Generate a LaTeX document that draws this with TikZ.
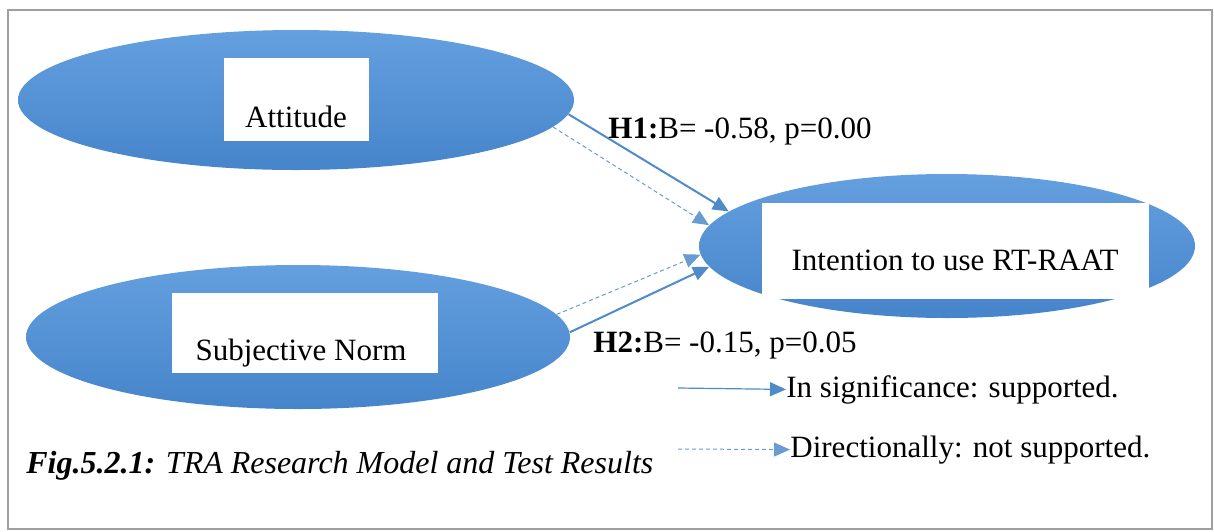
\documentclass[tikz,border=0pt]{standalone}
\usepackage{fontspec}
\setmainfont{Liberation Serif}
\usetikzlibrary{shapes.geometric,arrows.meta}
\definecolor{ovaltop}{RGB}{100,160,223}
\definecolor{ovalbot}{RGB}{70,132,203}
\definecolor{linkblue}{RGB}{79,138,201}

\begin{document}
\begin{tikzpicture}[x=0.5pt, y=-0.5pt,
    oval/.style={ellipse, draw=none, top color=ovaltop, bottom color=ovalbot, inner sep=0pt},
    whitebox/.style={fill=white, draw=none, inner sep=0pt},
    lbl/.style={inner sep=0pt, font=\fontsize{15.5}{18}\selectfont},
    sig/.style={draw=linkblue, line width=1pt, -{Triangle[length=8pt,width=7pt]}},
    dir/.style={draw=linkblue!85, line width=0.5pt, dash pattern=on 2pt off 1.5pt, -{Triangle[length=8pt,width=7pt]}}]
    \useasboundingbox (0,0) rectangle (1214,531);
    % frame
    \draw[gray!75, line width=1pt] (8,10) rectangle (1212,529);
    % constructs
    \node[oval, minimum width=278pt, minimum height=70pt] (att) at (296,100) {};
    \node[oval, minimum width=272pt, minimum height=72pt] (sn) at (298,337) {};
    \node[oval, minimum width=248pt, minimum height=72pt] (int) at (947,246) {};
    \node[whitebox, minimum width=72.5pt, minimum height=41.5pt] (attbox) at (296.5,99.5) {};
    \node[whitebox, minimum width=133pt, minimum height=40pt] (snbox) at (305,333) {};
    \node[whitebox, minimum width=193.5pt, minimum height=48pt] (intbox) at (955.5,251) {};
    \node[lbl, anchor=base] (atttxt) at (296,127) {Attitude};
    \node[lbl, anchor=base] (sntxt) at (301,360) {Subjective Norm};
    \node[lbl, anchor=base] (inttxt) at (955,270) {Intention to use RT-RAAT};
    % paths
    \draw[sig] (att.-3.5) -- (int.171);
    \draw[dir] (att.-6) -- (int.175.8);
    \draw[dir] (sn.5) -- (int.182.5);
    \draw[sig] (sn.1) -- (int.185.7);
    \node[lbl, anchor=base west] (h1) at (608,138) {\textbf{H1:}B= -0.58, p=0.00};
    \node[lbl, anchor=base west] (h2) at (593,352) {\textbf{H2:}B= -0.15, p=0.05};
    % legend
    \coordinate (sigstart) at (678,388);
    \coordinate (dirstart) at (678,449);
    \node[lbl, anchor=base west] (sigtxt) at (786,397) {In significance: supported.};
    \node[lbl, anchor=base west] (dirtxt) at (790,457) {Directionally: not supported.};
    \draw[sig, line width=0.6pt] (sigstart) -- (sigtxt.west);
    \draw[dir] (dirstart) -- (dirtxt.west);
    % caption
    \node[lbl, anchor=base west, font=\fontsize{16}{19}\selectfont] (cap) at (26,473) {\textbf{\textit{Fig.5.2.1:}} \textit{TRA Research Model and Test Results}};
\end{tikzpicture}
\end{document}
